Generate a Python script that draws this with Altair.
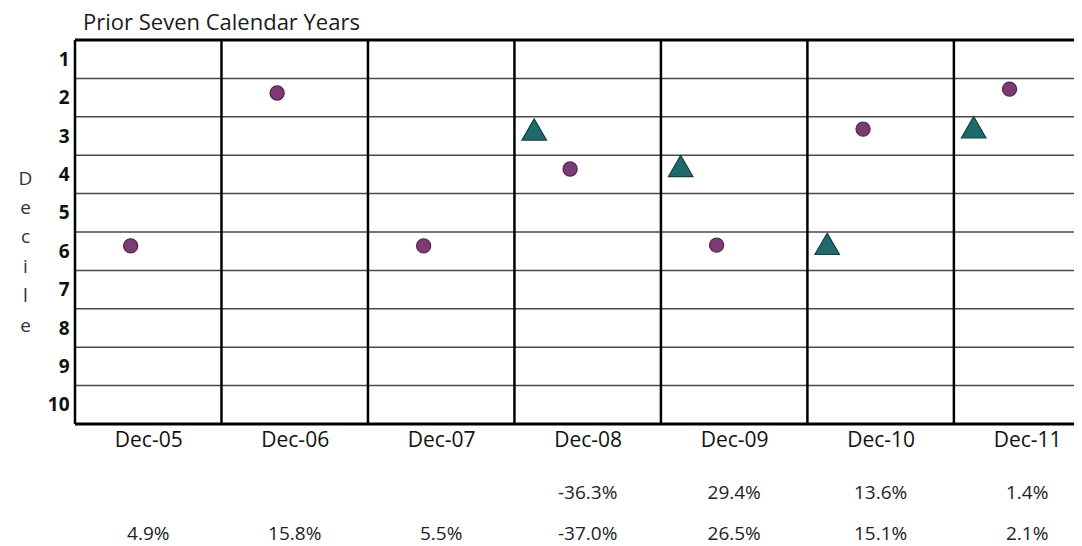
import altair as alt
import pandas as pd

years = ["Dec-05", "Dec-06", "Dec-07", "Dec-08", "Dec-09", "Dec-10", "Dec-11"]
circle_decile = [5.86, 1.88, 5.86, 3.86, 5.84, 2.82, 1.78]
triangle_decile = [None, None, None, 2.83, 3.78, 5.81, 2.77]
row1 = ["", "", "", "-36.3%", "29.4%", "13.6%", "1.4%"]
row2 = ["4.9%", "15.8%", "5.5%", "-37.0%", "26.5%", "15.1%", "2.1%"]
deciles = list(range(1, 11))

FONT = "Open Sans"
n = len(years)
XMAX = 6.82
CIRC_OFF = 0.38
TRI_OFF = 0.135

circ_df = pd.DataFrame({"x": [i + CIRC_OFF for i in range(n)], "d": circle_decile, "year": years})
tri_df = pd.DataFrame(
    [{"x": i + TRI_OFF, "d": v, "year": years[i]} for i, v in enumerate(triangle_decile) if v is not None]
)
txt_df = pd.DataFrame({"x": [i + 0.5 for i in range(n)], "r1": row1, "r2": row2})
hline_df = pd.DataFrame({"d": [k + 0.5 for k in deciles[:-1]]})
border_df = pd.DataFrame({"d": [0.5, 10.5]})
vline_df = pd.DataFrame({"x": list(range(n))})

xs = alt.Scale(domain=[0, XMAX], nice=False, zero=False)
ys = alt.Scale(domain=[0.5, 10.5], nice=False, zero=False, reverse=True)

x_axis = alt.Axis(
    values=[i + 0.5 for i in range(n)],
    labelExpr=f"{years}[floor(datum.value)]",
    ticks=False, domain=False, grid=False, title=None,
    labelFont=FONT, labelFontSize=21, labelColor="#111",
    labelPadding=5, labelFlush=False, labelOverlap=False,
)
y_axis = alt.Axis(
    values=deciles, ticks=False, domain=False, grid=False,
    title=list("Decile"), titleAngle=0, titleAlign="center", titleBaseline="middle",
    titleX=-50, titleY=138, titleLineHeight=29.4,
    titleFont=FONT, titleFontSize=19, titleFontWeight="normal", titleColor="#333",
    labelFont=FONT, labelFontSize=19, labelFontWeight="bold", labelColor="#111",
    labelPadding=6,
)

X = alt.X("x:Q", scale=xs, axis=x_axis)
Y = alt.Y("d:Q", scale=ys, axis=y_axis)

hlines = alt.Chart(hline_df).mark_rule(color="#4a4a4a", strokeWidth=1.5).encode(y=Y)
borders = alt.Chart(border_df).mark_rule(color="black", strokeWidth=3).encode(y=Y)
vlines = alt.Chart(vline_df).mark_rule(color="black", strokeWidth=2.5).encode(x=X)

circles = alt.Chart(circ_df).mark_point(
    shape="circle", filled=True, size=200, fill="#7b3b74", stroke="#55214f", strokeWidth=1.2, opacity=1
).encode(x=X, y=Y)
triangles = alt.Chart(tri_df).mark_point(
    shape="triangle-up", filled=True, size=600, fill="#1f6b6c", stroke="#123f40", strokeWidth=1.2, opacity=1
).encode(x=X, y=Y)

text1 = alt.Chart(txt_df).mark_text(font=FONT, fontSize=19, color="#222", baseline="middle").encode(
    x=X, y=alt.value(453), text="r1:N"
)
text2 = alt.Chart(txt_df).mark_text(font=FONT, fontSize=19, color="#222", baseline="middle").encode(
    x=X, y=alt.value(494), text="r2:N"
)

chart = (
    alt.layer(hlines, vlines, borders, circles, triangles, text1, text2)
    .properties(
        width=999,
        height=384,
        autosize=alt.AutoSizeParams(type="none"),
        padding={"left": 67, "top": 32, "right": 0, "bottom": 122},
        title=alt.TitleParams(
            "Prior Seven Calendar Years", anchor="start", frame="group", dx=8, offset=4,
            font=FONT, fontSize=22, fontWeight=500, color="#1a1a1a",
        ),
    )
    .configure_view(stroke=None)
)

chart.save("out.html", embed_options={"renderer": "svg", "actions": False})
